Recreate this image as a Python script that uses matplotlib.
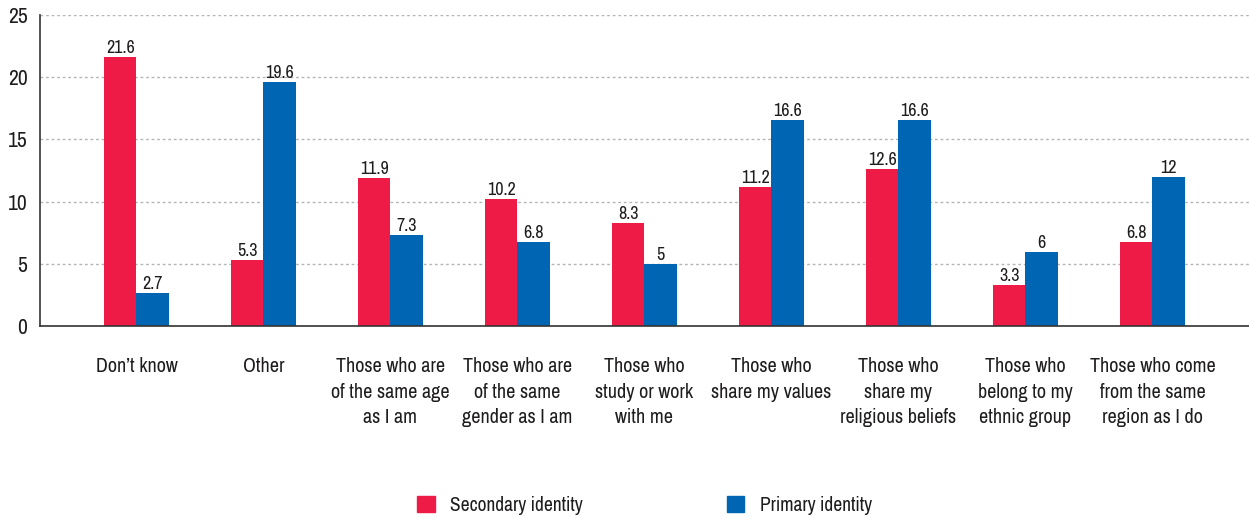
import numpy as np
import matplotlib.pyplot as plt
from matplotlib.patches import Patch

plt.rcParams['font.family'] = ['Archivo Narrow', 'Liberation Sans', 'DejaVu Sans']
plt.rcParams['text.color'] = '#1f1c1d'
plt.rcParams['xtick.color'] = '#1f1c1d'
plt.rcParams['ytick.color'] = '#1f1c1d'

categories = ["Don\u2019t know", "Other", "Those who are\nof the same age\nas I am",
              "Those who are\nof the same\ngender as I am", "Those who\nstudy or work\nwith me",
              "Those who\nshare my values", "Those who\nshare my\nreligious beliefs",
              "Those who\nbelong to my\nethnic group", "Those who come\nfrom the same\nregion as I do"]
secondary = [21.6, 5.3, 11.9, 10.2, 8.3, 11.2, 12.6, 3.3, 6.8]
primary = [2.7, 19.6, 7.3, 6.8, 5, 16.6, 16.6, 6, 12]

red = '#ED1B45'
blue = '#0066B3'

fig = plt.figure(figsize=(12.49, 5.17), dpi=100)
ax = fig.add_axes([0.032, 0.369, 0.968, 0.602])

x = np.arange(len(categories))
w = 0.255
b1 = ax.bar(x - w / 2, secondary, w, color=red)
b2 = ax.bar(x + w / 2, primary, w, color=blue)

for bars, vals in ((b1, secondary), (b2, primary)):
    for bar, v in zip(bars, vals):
        ax.text(bar.get_x() + bar.get_width() / 2, v + 0.08, '%g' % v,
                ha='center', va='bottom', fontsize=13)

ax.set_xlim(-0.76, 8.76)
ax.set_ylim(0, 25)
ax.set_yticks(range(0, 26, 5))
ax.yaxis.grid(True, linestyle=(0, (2, 2)), color='#b5b5b5', linewidth=1)
ax.set_axisbelow(True)
ax.set_xticks(x)
ax.set_xticklabels(categories, fontsize=14.5, linespacing=1.45, va='top')
ax.tick_params(axis='x', length=0, pad=22)
ax.tick_params(axis='y', length=0, labelsize=15.5, pad=9)
for s in ('top', 'right'):
    ax.spines[s].set_visible(False)
for s in ('left', 'bottom'):
    ax.spines[s].set_color('#333333')
    ax.spines[s].set_linewidth(1.2)

handles = [Patch(color=red), Patch(color=blue)]
fig.legend(handles, ['Secondary identity', 'Primary identity'], loc='center',
           bbox_to_anchor=(0.516, 0.022), ncol=2, frameon=False, fontsize=14,
           handlelength=0.9, handleheight=0.9, columnspacing=7.4, handletextpad=0.8)

fig.savefig('out.png', dpi=100)
